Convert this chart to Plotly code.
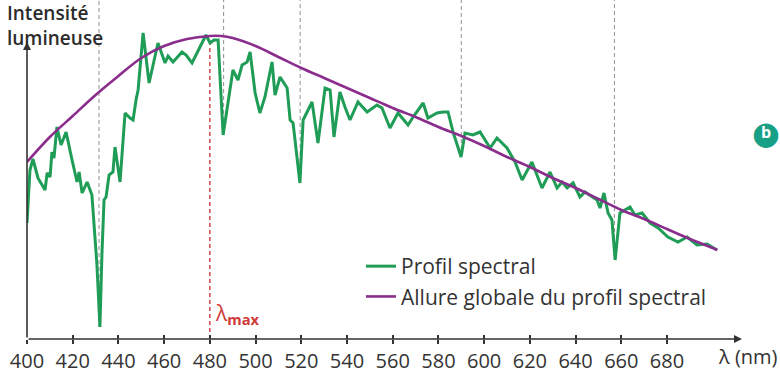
import numpy as np
import plotly.graph_objects as go

# Spectral profile (wavelength nm, relative intensity)
green_nm = [400.0, 401.3, 402.6, 404.8, 407.9, 408.8, 410.1, 410.9, 411.8, 413.1, 414.9, 417.1, 419.7,
            421.9, 422.8, 424.1, 426.3, 428.4, 430.6, 431.9, 432.8, 433.7, 434.6, 435.9, 437.6, 438.5,
            440.7, 442.9, 445.1, 446.4, 447.7, 448.6, 450.8, 453.4, 457.3, 460.4, 461.7, 463.9, 467.8,
            469.6, 472.2, 474.8, 478.3, 480.1, 481.8, 483.6, 485.8, 490.1, 492.3, 494.1, 496.3, 497.6,
            499.8, 501.9, 504.1, 507.2, 508.5, 510.7, 513.8, 515.1, 516.4, 519.4, 520.8, 524.7, 527.3,
            530.4, 532.6, 534.3, 535.6, 536.9, 539.1, 541.3, 544.8, 548.8, 553.1, 555.3, 558.8, 562.3,
            566.7, 568.9, 573.3, 575.4, 579.4, 582.0, 584.2, 586.4, 589.9, 591.6, 595.1, 598.2, 602.6,
            605.6, 610.0, 613.5, 616.6, 620.9, 625.3, 628.8, 631.9, 634.1, 636.3, 638.9, 641.9, 644.1,
            649.4, 650.7, 652.4, 654.2, 655.9, 657.3, 659.4, 663.8, 666.0, 669.1, 672.6, 676.1, 680.4,
            684.8, 688.8, 693.1, 697.5, 701.9]
green_val = [116, 169, 180, 161, 149, 166, 162, 187, 181, 212, 194, 207, 179,
             157, 167, 146, 157, 144, 74, 12, 86, 139, 142, 164, 167, 192,
             157, 226, 221, 219, 239, 249, 306, 256, 296, 276, 283, 277, 287,
             284, 276, 288, 304, 296, 299, 299, 204, 269, 259, 274, 277, 287,
             246, 226, 242, 277, 244, 262, 251, 219, 216, 156, 219, 237, 196,
             251, 249, 202, 227, 247, 232, 219, 237, 227, 234, 231, 211, 226,
             214, 222, 236, 221, 226, 227, 227, 207, 182, 206, 204, 207, 191,
             201, 191, 177, 159, 177, 151, 167, 151, 157, 151, 156, 142, 147,
             139, 131, 146, 126, 119, 79, 126, 132, 124, 126, 116, 111, 102,
             97, 102, 94, 95, 89]

# Global shape of the spectral profile
env_nm = [400, 410, 420, 430, 440, 450, 460, 470, 480, 485, 490, 500, 510, 520, 530, 540, 550,
          560, 570, 580, 590, 600, 610, 620, 630, 640, 650, 660, 670, 680, 690, 700, 702]
env_val = [177, 202, 223, 244, 263, 281, 293, 300, 303, 303, 301, 293, 282, 271, 261, 251, 241,
           231, 222, 212, 203, 193, 182, 172, 161, 151, 140, 129, 120, 110, 100, 91, 89]

absorption_nm = [431.5, 486.0, 519.5, 590.0, 657.0]
lambda_max = 480
tick_vals = list(range(400, 700, 20))
tick_text = [str(v) for v in tick_vals]

X_MAX = 712.8
Y_TOP = 339
Y_ARROW = 297

GREEN = "#1f9d57"
PURPLE = "#8a2d8c"
RED = "#d03a3a"
AXIS = "#333333"
TEAL = "#17a086"
FONT = "Open Sans"

fig = go.Figure()
fig.add_trace(go.Scatter(x=green_nm, y=green_val, mode="lines", name="Profil spectral",
                         line=dict(color=GREEN, width=3), cliponaxis=False))
fig.add_trace(go.Scatter(x=env_nm, y=env_val, mode="lines", name="Allure globale du profil spectral",
                         line=dict(color=PURPLE, width=2.6, shape="spline"), cliponaxis=False))

gn = np.array(green_nm)
gv = np.array(green_val)
shapes = []
for nm in absorption_nm:
    near = gv[np.abs(gn - nm) <= 1.6]
    bottom = float(near.min()) if near.size else float(np.interp(nm, gn, gv))
    shapes.append(dict(type="line", xref="x", yref="y", x0=nm, x1=nm, y0=bottom, y1=Y_TOP,
                       line=dict(color="#9a9a9a", width=1.1, dash="4px,3px"), layer="below"))
peak = float(np.interp(lambda_max, env_nm, env_val)) - 6
shapes.append(dict(type="line", xref="x", yref="y", x0=lambda_max, x1=lambda_max, y0=0, y1=peak,
                   line=dict(color=RED, width=1.4, dash="4px,3px"), layer="below"))

bx = (766 - 27) / 715
by = (339 - 133) / 339
annotations = [
    # x axis arrow
    dict(x=X_MAX, y=0, ax=400, ay=0, xref="x", yref="y", axref="x", ayref="y", showarrow=True,
         arrowhead=2, arrowsize=1, arrowwidth=1.6, arrowcolor=AXIS, text=""),
    # y axis arrow
    dict(x=400, y=Y_ARROW, ax=400, ay=0, xref="x", yref="y", axref="x", ayref="y", showarrow=True,
         arrowhead=2, arrowsize=1, arrowwidth=1.6, arrowcolor=AXIS, text=""),
    dict(x=-22 / 715, y=1.0, xref="paper", yref="paper", xanchor="left", yanchor="top",
         yshift=2, text="Intensité<br>lumineuse", showarrow=False, align="left",
         font=dict(family=FONT, size=19, color="#2b2b2b", weight=600)),
    dict(x=1.0, y=0, xref="paper", yref="paper", xanchor="left", yanchor="top", xshift=-26,
         yshift=-2, text="λ (nm)", showarrow=False, font=dict(family=FONT, size=20, color=AXIS)),
    dict(x=lambda_max, y=8, xref="x", yref="y", xanchor="left", yanchor="bottom", xshift=3,
         text="λ<sub><b>max</b></sub>", showarrow=False, font=dict(family=FONT, size=21, color=RED)),
    # badge
    dict(x=bx, y=by, xref="paper", yref="paper", xanchor="center", yanchor="middle",
         text="●", showarrow=False, font=dict(family="DejaVu Sans", size=32, color=TEAL)),
    dict(x=bx, y=by, xref="paper", yref="paper", xanchor="center", yanchor="middle", yshift=1,
         text="<b>b</b>", showarrow=False, font=dict(family=FONT, size=16, color="white")),
]

fig.update_layout(
    width=780, height=376,
    margin=dict(l=27, r=38, t=0, b=37),
    paper_bgcolor="white", plot_bgcolor="white",
    font=dict(family=FONT, color=AXIS),
    showlegend=True,
    legend=dict(x=(361 - 27) / 715, y=(339 - 246) / 339, xanchor="left", yanchor="top",
                bgcolor="rgba(0,0,0,0)", font=dict(family=FONT, size=21, color=AXIS),
                tracegroupgap=0, itemwidth=30),
    xaxis=dict(range=[400, X_MAX], showgrid=False, zeroline=False, showline=False,
               tickmode="array", tickvals=tick_vals, ticktext=tick_text,
               ticks="outside", ticklen=4, tickwidth=2, tickcolor=AXIS,
               tickfont=dict(family=FONT, size=20, color=AXIS)),
    xaxis2=dict(range=[400, X_MAX], overlaying="x", anchor="y", side="bottom",
                showgrid=False, zeroline=False, showline=False,
                tickmode="array", tickvals=tick_vals, ticks="inside", ticklen=4, tickwidth=2,
                tickcolor=AXIS, showticklabels=False),
    yaxis=dict(range=[0, Y_TOP], showgrid=False, zeroline=False, showline=False,
               showticklabels=False, ticks=""),
    shapes=shapes,
    annotations=annotations,
)
# invisible helper trace so the second tick axis is drawn
fig.add_trace(go.Scatter(x=[400], y=[0], xaxis="x2", mode="markers", marker=dict(opacity=0),
                         showlegend=False, hoverinfo="skip"))

fig.write_html("out.html")
